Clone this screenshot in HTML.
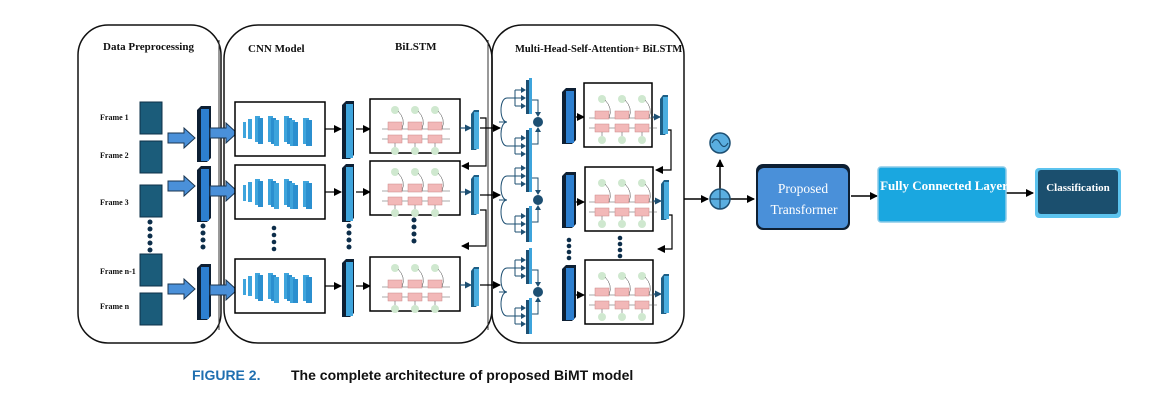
<!DOCTYPE html>
<html><head><meta charset="utf-8"><style>
html,body{margin:0;padding:0;background:#fff;}
svg{display:block;}
</style></head><body>
<svg width="1157" height="416" viewBox="0 0 1157 416" xmlns="http://www.w3.org/2000/svg" font-family="Liberation Serif, serif">
<defs>
<marker id="ah" markerWidth="8" markerHeight="8" refX="7" refY="4" orient="auto" markerUnits="userSpaceOnUse"><path d="M0,0 L8,4 L0,8 z" fill="#000"/></marker>
<marker id="ahb" markerWidth="7" markerHeight="7" refX="6" refY="3.5" orient="auto" markerUnits="userSpaceOnUse"><path d="M0,0 L7,3.5 L0,7 z" fill="#1d4f72"/></marker>
<g id="cnn">
<rect x="0" y="0" width="90" height="54" fill="#fff" stroke="#000" stroke-width="1.5"/>
<rect x="8" y="20" width="3" height="16" fill="#3ea4dc"/>
<rect x="13" y="17" width="4" height="20" fill="#3ea4dc"/>
<rect x="20" y="14" width="5" height="26" fill="#3ea4dc"/><rect x="23" y="16" width="5" height="26" fill="#2b8fcf"/>
<rect x="33" y="14" width="5" height="26" fill="#3ea4dc"/><rect x="36" y="16" width="5" height="26" fill="#2b8fcf"/><rect x="39" y="18" width="5" height="26" fill="#3ea4dc"/>
<rect x="49" y="14" width="5" height="26" fill="#3ea4dc"/><rect x="52" y="16" width="5" height="26" fill="#2b8fcf"/><rect x="55" y="18" width="5" height="26" fill="#3ea4dc"/><rect x="58" y="20" width="5" height="24" fill="#2b8fcf"/>
<rect x="68" y="16" width="6" height="26" fill="#3ea4dc"/><rect x="71" y="18" width="6" height="26" fill="#2b8fcf"/>
</g>
<g id="lstm">
<g stroke="#555" stroke-width="0.6" fill="none"><path d="M12,30 H80"/><path d="M12,40 H80"/></g>
<g fill="#f2b8b8" stroke="#c88" stroke-width="0.5">
<rect x="18" y="23" width="14" height="8"/><rect x="38" y="23" width="14" height="8"/><rect x="58" y="23" width="14" height="8"/>
<rect x="18" y="36" width="14" height="8"/><rect x="38" y="36" width="14" height="8"/><rect x="58" y="36" width="14" height="8"/>
</g>
<g fill="#cfe8cf"><circle cx="25" cy="11" r="4"/><circle cx="45" cy="11" r="4"/><circle cx="65" cy="11" r="4"/>
<circle cx="25" cy="52" r="4"/><circle cx="45" cy="52" r="4"/><circle cx="65" cy="52" r="4"/></g>
<g stroke="#444" stroke-width="0.5" fill="none"><path d="M28,12 q8,8 4,18"/><path d="M48,12 q8,8 4,18"/><path d="M68,12 q8,8 4,18"/><path d="M25,44 V48"/><path d="M45,44 V48"/><path d="M65,44 V48"/></g>
</g>
<g id="mh">
<path d="M-6,0 H2 M2,0 C-6,0 -6,-24 2,-24 H10 M2,0 C-6,0 -6,24 2,24 H10" stroke="#1d4f72" fill="none" stroke-width="1"/>
<g stroke="#1d4f72" fill="none" stroke-width="1">
<path d="M10,-32 V-16 M10,-32 H19 M10,-24 H19 M10,-16 H19"/>
<path d="M10,16 V32 M10,16 H19 M10,24 H19 M10,32 H19"/>
</g>
<g fill="#1d4f72"><path d="M16,-35 l5,3 -5,3z"/><path d="M16,-27 l5,3 -5,3z"/><path d="M16,-19 l5,3 -5,3z"/>
<path d="M16,13 l5,3 -5,3z"/><path d="M16,21 l5,3 -5,3z"/><path d="M16,29 l5,3 -5,3z"/></g>
<rect x="21" y="-42" width="4" height="34" fill="#1d4f72"/><rect x="24" y="-44" width="3" height="36" fill="#3ea4dc"/>
<rect x="21" y="8" width="4" height="34" fill="#1d4f72"/><rect x="24" y="6" width="3" height="36" fill="#3ea4dc"/>
<path d="M27,-22 H33 V-8 M27,22 H33 V8" stroke="#1d4f72" fill="none"/>
<path d="M30,-10 l3,5 3,-5z M30,10 l3,-5 3,5z" fill="#1d4f72"/>
<circle cx="33" cy="0" r="5" fill="#1d4f72"/>
</g>
<g id="slabD"><path d="M0,4 L4,0 L14,0 L14,52 L10,56 L0,56z" fill="#0d1f33"/><rect x="4" y="3" width="8" height="52" fill="#2d7fd0"/></g>
<g id="slabL"><path d="M0,4 L4,0 L12,0 L12,54 L8,58 L0,58z" fill="#0d1f33"/><rect x="4" y="3" width="7" height="54" fill="#3ea4dc"/></g>
<g id="slabS"><path d="M0,4 L3,0 L8,0 L8,36 L5,40 L0,40z" fill="#1d5f86"/><rect x="3" y="2" width="5" height="37" fill="#4aaee0"/></g>
<g id="bigarrow"><path d="M0,-5 H16 V-10 L27,0 L16,10 V5 H0z" fill="#4a90d9" stroke="#1a3550" stroke-width="1"/></g>
</defs>

<rect x="78" y="25" width="143" height="318" rx="30" fill="none" stroke="#111" stroke-width="1.5"/>
<rect x="224" y="25" width="268" height="318" rx="34" fill="none" stroke="#111" stroke-width="1.5"/>
<rect x="492" y="25" width="192" height="318" rx="30" fill="none" stroke="#111" stroke-width="1.5"/>
<line x1="219" y1="40" x2="219" y2="330" stroke="#333" stroke-width="1"/>
<line x1="488" y1="40" x2="488" y2="330" stroke="#333" stroke-width="1"/>

<g font-weight="bold" font-size="11" fill="#111">
<text x="103" y="50">Data Preprocessing</text>
<text x="248" y="52">CNN Model</text>
<text x="395" y="50">BiLSTM</text>
<text x="515" y="52" font-size="10.5">Multi-Head-Self-Attention+ BiLSTM</text>
</g>

<g font-size="8" font-weight="bold" fill="#111">
<text x="100" y="120">Frame 1</text><text x="100" y="158">Frame 2</text><text x="100" y="205">Frame 3</text>
<text x="100" y="274">Frame n-1</text><text x="100" y="309">Frame n</text>
</g>
<g fill="#1b5c7a" stroke="#0e3148" stroke-width="1">
<rect x="140" y="102" width="22" height="32"/><rect x="140" y="141" width="22" height="32"/><rect x="140" y="185" width="22" height="32"/>
<rect x="140" y="254" width="22" height="32"/><rect x="140" y="293" width="22" height="32"/>
</g>
<g fill="#0d2e4a"><circle cx="150" cy="222" r="2.5"/><circle cx="150" cy="229" r="2.5"/><circle cx="150" cy="236" r="2.5"/><circle cx="150" cy="243" r="2.5"/><circle cx="150" cy="250" r="2.5"/></g>

<use href="#bigarrow" x="168" y="138"/><use href="#bigarrow" x="168" y="186"/><use href="#bigarrow" x="168" y="289"/>
<use href="#slabD" x="197" y="106"/><use href="#slabD" x="197" y="166"/><use href="#slabD" x="197" y="264"/>
<g fill="#0d2e4a"><circle cx="203" cy="226" r="2.5"/><circle cx="203" cy="233" r="2.5"/><circle cx="203" cy="240" r="2.5"/><circle cx="203" cy="247" r="2.5"/></g>
<use href="#bigarrow" x="210" y="133"/><use href="#bigarrow" x="210" y="191"/><use href="#bigarrow" x="210" y="290"/>

<use href="#cnn" x="235" y="102"/><use href="#cnn" x="235" y="165"/><use href="#cnn" x="235" y="259"/>
<g fill="#0d2e4a"><circle cx="274" cy="228" r="2.3"/><circle cx="274" cy="235" r="2.3"/><circle cx="274" cy="242" r="2.3"/><circle cx="274" cy="249" r="2.3"/></g>
<g stroke="#000" stroke-width="1.2" marker-end="url(#ah)">
<line x1="325" y1="129" x2="341" y2="129"/><line x1="325" y1="192" x2="341" y2="192"/><line x1="325" y1="286" x2="341" y2="286"/>
<line x1="356" y1="129" x2="370" y2="129"/><line x1="356" y1="192" x2="370" y2="192"/><line x1="356" y1="286" x2="370" y2="286"/>
</g>
<use href="#slabL" x="342" y="101"/><use href="#slabL" x="342" y="164"/><use href="#slabL" x="342" y="259"/>
<g fill="#0d2e4a"><circle cx="349" cy="226" r="2.5"/><circle cx="349" cy="233" r="2.5"/><circle cx="349" cy="240" r="2.5"/><circle cx="349" cy="247" r="2.5"/></g>

<rect x="370" y="99" width="90" height="54" fill="#fff" stroke="#000" stroke-width="1.5"/><use href="#lstm" x="370" y="99"/>
<rect x="370" y="161" width="90" height="54" fill="#fff" stroke="#000" stroke-width="1.5"/><use href="#lstm" x="370" y="161"/>
<rect x="370" y="257" width="90" height="54" fill="#fff" stroke="#000" stroke-width="1.5"/><use href="#lstm" x="370" y="257"/>
<g fill="#0d2e4a"><circle cx="414" cy="220" r="2.5"/><circle cx="414" cy="227" r="2.5"/><circle cx="414" cy="234" r="2.5"/><circle cx="414" cy="241" r="2.5"/></g>
<g stroke="#1d4f72" stroke-width="1.2" marker-end="url(#ahb)">
<line x1="460" y1="128" x2="471" y2="128"/><line x1="460" y1="192" x2="471" y2="192"/><line x1="460" y1="285" x2="471" y2="285"/>
</g>
<use href="#slabS" x="471" y="110"/><use href="#slabS" x="471" y="175"/><use href="#slabS" x="471" y="267"/>
<g stroke="#000" stroke-width="1.2" fill="none">
<path d="M480,118 H486 V166 H462" marker-end="url(#ah)"/>
<path d="M480,210 H486 V246 H462" marker-end="url(#ah)"/>
<path d="M480,128 H500" marker-end="url(#ah)"/>
<path d="M480,195 H500" marker-end="url(#ah)"/>
<path d="M480,285 H500" marker-end="url(#ah)"/>
</g>

<use href="#mh" x="505" y="122"/><use href="#mh" x="505" y="200"/><use href="#mh" x="505" y="292"/>
<use href="#slabD" x="562" y="88"/><use href="#slabD" x="562" y="172"/><use href="#slabD" x="562" y="265"/>
<g fill="#0d2e4a"><circle cx="569" cy="240" r="2.3"/><circle cx="569" cy="246" r="2.3"/><circle cx="569" cy="252" r="2.3"/><circle cx="569" cy="258" r="2.3"/></g>
<g stroke="#000" stroke-width="1.2" marker-end="url(#ah)">
<line x1="576" y1="117" x2="584" y2="117"/><line x1="576" y1="202" x2="584" y2="202"/><line x1="576" y1="295" x2="584" y2="295"/>
</g>
<rect x="584" y="83" width="68" height="64" fill="#fff" stroke="#000" stroke-width="1.5"/><use href="#lstm" x="577" y="88"/>
<rect x="585" y="167" width="68" height="64" fill="#fff" stroke="#000" stroke-width="1.5"/><use href="#lstm" x="577" y="172"/>
<rect x="585" y="260" width="68" height="64" fill="#fff" stroke="#000" stroke-width="1.5"/><use href="#lstm" x="577" y="265"/>
<g fill="#0d2e4a"><circle cx="620" cy="238" r="2.3"/><circle cx="620" cy="244" r="2.3"/><circle cx="620" cy="250" r="2.3"/><circle cx="620" cy="256" r="2.3"/></g>
<g stroke="#1d4f72" stroke-width="1.2" marker-end="url(#ahb)">
<line x1="652" y1="117" x2="660" y2="117"/><line x1="653" y1="201" x2="661" y2="201"/><line x1="653" y1="294" x2="661" y2="294"/>
</g>
<use href="#slabS" x="660" y="95"/><use href="#slabS" x="661" y="180"/><use href="#slabS" x="661" y="274"/>
<g stroke="#000" stroke-width="1.2" fill="none">
<path d="M668,130 H671 V170 H656" marker-end="url(#ah)"/>
<path d="M669,215 H672 V249 H658" marker-end="url(#ah)"/>
</g>

<g stroke="#000" stroke-width="1.5" fill="none">
<path d="M684,199 H708" marker-end="url(#ah)"/>
<path d="M729,199 H754" marker-end="url(#ah)"/>
<path d="M720,189 V160" marker-end="url(#ah)"/>
<path d="M851,196 H877" marker-end="url(#ah)"/>
<path d="M1005,193 H1033" marker-end="url(#ah)"/>
</g>
<circle cx="720" cy="143" r="10" fill="#5aaee0" stroke="#1d4f72" stroke-width="1.5"/>
<path d="M712,143 q4,-7 8,0 t8,0" stroke="#1d4f72" fill="none" stroke-width="1.2"/>
<circle cx="720" cy="199" r="10" fill="#5aaee0" stroke="#1d4f72" stroke-width="1.5"/>
<path d="M710,199 H730 M720,189 V209" stroke="#1d4f72" stroke-width="1.2"/>

<rect x="756" y="164" width="94" height="66" rx="7" fill="#0d1f33"/>
<rect x="758" y="168" width="90" height="60" rx="6" fill="#4a90d9"/>
<text x="803" y="193" text-anchor="middle" font-size="13.5" fill="#fff">Proposed</text>
<text x="804" y="214" text-anchor="middle" font-size="13.5" fill="#fff">Transformer</text>

<rect x="878" y="167" width="128" height="55" rx="3" fill="#1aa7e0" stroke="#8ccbe8" stroke-width="1.5"/>
<text x="944" y="190" text-anchor="middle" font-size="13" font-weight="bold" fill="#fff">Fully Connected Layer</text>

<rect x="1035" y="168" width="86" height="50" rx="4" fill="#5cc3ee"/>
<rect x="1038" y="170" width="80" height="44" rx="3" fill="#1b4f6e"/>
<text x="1078" y="191" text-anchor="middle" font-size="11" font-weight="bold" fill="#fff">Classification</text>

<text x="192" y="380" font-family="Liberation Sans, sans-serif" font-size="14" font-weight="bold" fill="#1f6fb0">FIGURE 2.</text>
<text x="291" y="380" font-family="Liberation Sans, sans-serif" font-size="14" font-weight="bold" fill="#111">The complete architecture of proposed BiMT model</text>
</svg>
</body></html>
